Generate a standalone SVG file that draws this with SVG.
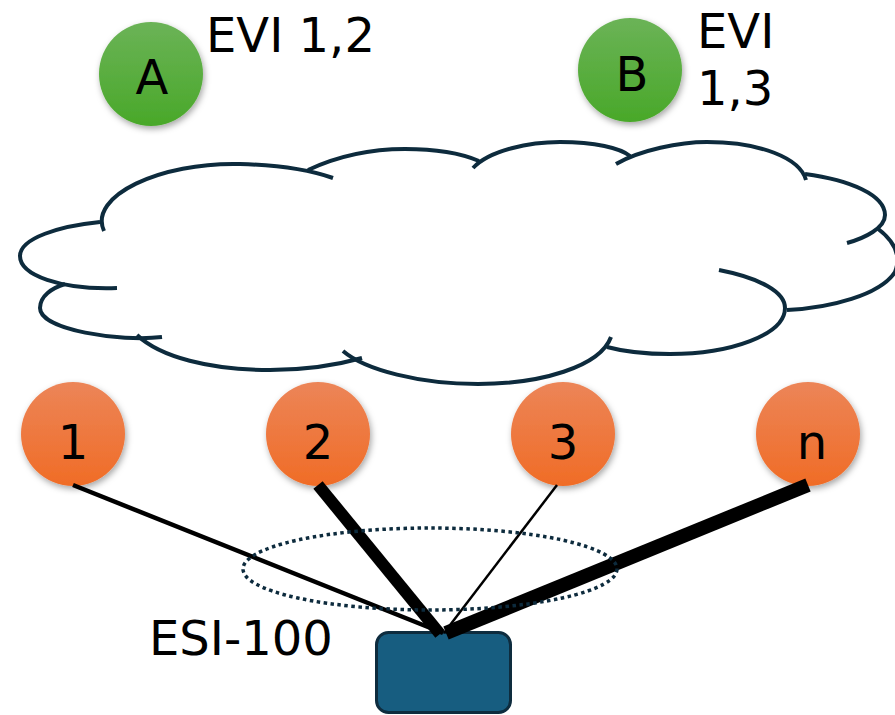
<svg xmlns="http://www.w3.org/2000/svg" width="895" height="715" viewBox="0 0 895 715">
<defs>
<linearGradient id="gGreen" x1="0" y1="0" x2="0" y2="1">
<stop offset="0" stop-color="#6bb357"/>
<stop offset="1" stop-color="#49a829"/>
</linearGradient>
<linearGradient id="gOrange" x1="0" y1="0" x2="0" y2="1">
<stop offset="0" stop-color="#ec8558"/>
<stop offset="1" stop-color="#f06c26"/>
</linearGradient>
<filter id="shadow" x="-30%" y="-30%" width="160%" height="160%">
<feDropShadow dx="1.5" dy="3" stdDeviation="3" flood-color="#000" flood-opacity="0.35"/>
</filter>
</defs>
<style>
.cloud{fill:none;stroke:#0d2b3d;stroke-width:4;stroke-linecap:butt}
.lbl{font-family:"DejaVu Sans","Liberation Sans",sans-serif;font-size:48px;fill:#000}
.mid{text-anchor:middle}
.link{stroke:#000;stroke-linecap:butt}
</style>
<rect width="895" height="715" fill="#fff"/>
<g id="cloud">
<path class="cloud" d="M117,288 C60,290 20,275 20,256 C20,238 60,226 100,222"/>
<path class="cloud" d="M104,231 C88,196 160,162 240,164 C280,165 310,170 333,178"/>
<path class="cloud" d="M308,170 C340,155 370,149 405,149 C440,149 465,155 479,161"/>
<path class="cloud" d="M473,168 C490,150 530,142 560,142 C595,142 620,148 630,156"/>
<path class="cloud" d="M616,164 C640,150 680,142 707,142 C760,142 800,158 806,180"/>
<path class="cloud" d="M805,174 C850,180 885,195 885,215 C885,228 865,238 847,243"/>
<path class="cloud" d="M877,228 C893,240 902,255 895,272 C880,295 830,308 787,310"/>
<path class="cloud" d="M719,270 C760,278 785,292 785,308 C785,335 730,354 670,354 C640,354 618,350 607,347"/>
<path class="cloud" d="M611,337 C600,367 540,384 478,384 C420,384 365,370 343,351"/>
<path class="cloud" d="M362,358 C330,367 300,370 270,370 C210,370 160,357 137,335"/>
<path class="cloud" d="M162,337 C120,342 40,330 40,308 C40,296 52,288 65,284"/>
</g>
<g id="node-A">
<circle cx="151" cy="74" r="52" fill="url(#gGreen)" filter="url(#shadow)"/>
<text class="lbl mid" x="152" y="94">A</text>
</g>
<g id="label-evi12">
<text class="lbl" x="206" y="52">EVI 1,2</text>
</g>
<g id="node-B">
<circle cx="630" cy="70" r="52" fill="url(#gGreen)" filter="url(#shadow)"/>
<text class="lbl mid" x="632" y="91">B</text>
</g>
<g id="label-evi13">
<text class="lbl" x="697" y="48">EVI</text>
<text class="lbl" x="697" y="105">1,3</text>
</g>
<g id="node-1">
<circle cx="73" cy="434" r="52" fill="url(#gOrange)" filter="url(#shadow)"/>
<text class="lbl mid" x="73" y="459">1</text>
</g>
<g id="node-2">
<circle cx="318" cy="434" r="52" fill="url(#gOrange)" filter="url(#shadow)"/>
<text class="lbl mid" x="318" y="459">2</text>
</g>
<g id="node-3">
<circle cx="563" cy="434" r="52" fill="url(#gOrange)" filter="url(#shadow)"/>
<text class="lbl mid" x="563" y="459">3</text>
</g>
<g id="node-n">
<circle cx="808" cy="434" r="52" fill="url(#gOrange)" filter="url(#shadow)"/>
<text class="lbl mid" x="812" y="459">n</text>
</g>
<g id="node-device">
<rect x="376.5" y="632.5" width="134" height="80" rx="12" ry="12" fill="#175d80" stroke="#0e2c3e" stroke-width="3"/>
</g>
<g id="connectors">
<line class="link" x1="73" y1="485" x2="443" y2="633" stroke-width="4.5"/>
<line class="link" x1="318" y1="485" x2="440" y2="634" stroke-width="12"/>
<line class="link" x1="557" y1="485" x2="444" y2="633" stroke-width="2.5"/>
<line class="link" x1="808" y1="485" x2="446" y2="633" stroke-width="14"/>
</g>
<g id="esi-group">
<ellipse cx="430" cy="569" rx="187" ry="41" fill="none" stroke="#0d2b3d" stroke-width="3.5" stroke-dasharray="3.5 3.5"/>
<text class="lbl" x="149" y="655">ESI-100</text>
</g>
</svg>
